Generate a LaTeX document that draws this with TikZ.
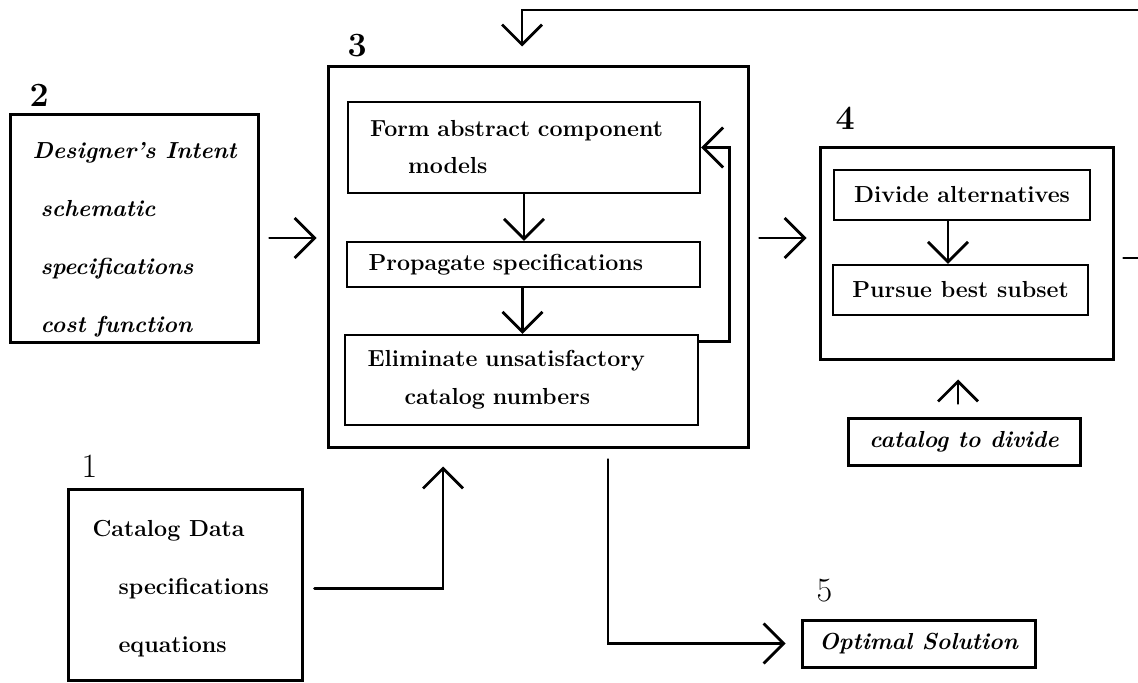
\documentclass[tikz,border=0pt]{standalone}
\usepackage{tikz}
\usetikzlibrary{arrows.meta,positioning}

\begin{document}
\begin{tikzpicture}[x=0.5pt,y=-0.5pt]
	\tikzstyle{every node}=[font=\bfseries\fontsize{11.6}{13.5}\selectfont];
	\tikzstyle{blk}=[draw,rectangle,line width=1.5pt,inner sep=0pt];
	\tikzstyle{stp}=[draw,rectangle,line width=1.2pt,inner xsep=11pt,inner ysep=0pt,align=left];
	\tikzstyle{ctr}=[draw,rectangle,line width=1.2pt,inner sep=0pt,align=center];
	\tikzstyle{itx}=[font=\bfseries\itshape\fontsize{11.6}{13.5}\selectfont];
	\tikzstyle{num}=[font=\fontsize{17}{19}\selectfont];
	\tikzstyle{pth}=[draw,-{Straight Barb[length=10pt,width=20pt]},line width=1.35pt,line cap=round];
	\useasboundingbox (0,0) rectangle (1138,683);
	\clip (0,0) rectangle (1138,683);
	% inputs
	\node[blk,minimum width=124pt,minimum height=114pt] (b2) at (134,229) {};
	\node[itx,align=left,anchor=west] (t2) at ([xshift=8.5pt,yshift=-5.5pt]b2.west)
		{Designer's Intent\\[15.5pt]\hspace*{4pt}schematic\\[15.5pt]\hspace*{4pt}specifications\\[15.5pt]\hspace*{4pt}cost function};
	\node[blk,minimum width=117pt,minimum height=95.5pt] (b1) at (185,584.5) {};
	\node[align=left,anchor=west] (t1) at ([xshift=9.5pt,yshift=-2pt]b1.west)
		{Catalog Data\\[15.5pt]\hspace*{13pt}specifications\\[15.5pt]\hspace*{13pt}equations};
	% main block
	\node[blk,minimum width=210pt,minimum height=190pt] (b3) at (538,257) {};
	\node[stp,minimum width=176pt,minimum height=45.5pt,text width=154pt] (form) at (524,147.5) {Form abstract component\\[5pt]\hspace*{19pt}models};
	\node[stp,minimum width=176.5pt,minimum height=22.5pt,text width=155pt,inner xsep=10.5pt] (prop) at (523.5,264.5) {Propagate specifications};
	\node[stp,minimum width=176.5pt,minimum height=45pt,text width=154pt] (elim) at (521.5,380) {Eliminate unsatisfactory\\[5.5pt]\hspace*{18.5pt}catalog numbers};
	% divide block
	\node[blk,minimum width=146.5pt,minimum height=106pt] (b4) at (966.5,254) {};
	\node[ctr,minimum width=128pt,minimum height=25pt] (divide) at (962,195) {Divide alternatives};
	\node[ctr,minimum width=127.5pt,minimum height=25pt] (pursue) at (960.5,290) {Pursue best subset};
	\node[ctr,itx,line width=1.5pt,minimum width=116pt,minimum height=23.5pt] (catdiv) at (964,441.5) {catalog to divide};
	\node[ctr,itx,line width=1.5pt,minimum width=116.5pt,minimum height=23.5pt] (opt) at (918.5,643.5) {Optimal Solution};
	% numbers
	\node[num,font=\bfseries\fontsize{17}{19}\selectfont,above right=0pt and 7pt of b2.north west] (n2) {2};
	\node[num,font=\bfseries\fontsize{17}{19}\selectfont,above right=1pt and 7pt of b3.north west] (n3) {3};
	\node[num,font=\bfseries\fontsize{17}{19}\selectfont,above right=5pt and 5pt of b4.north west] (n4) {4};
	\node[num,above right=1.5pt and 4pt of b1.north west] (n1) {1};
	\node[num,above right=4.5pt and 4.5pt of opt.north west] (n5) {5};
	\coordinate (ret) at (1170,10);
	% connections
	\draw[pth,shorten <=5pt,shorten >=5pt] ([yshift=-4.5pt]b2.east) -- ([yshift=-4.5pt]b2.east -| b3.west);
	\draw[pth,shorten <=5.5pt,shorten >=9pt] ([yshift=-2pt]b1.east) -| ([xshift=-47.5pt]b3.south);
	\draw[pth] (form) -- (form.south |- prop.north);
	\draw[pth] ([xshift=-0.5pt]prop.south) -- ([xshift=-0.5pt]prop.south |- elim.north);
	\draw[pth] ([yshift=-4pt]elim.north east) -| ([xshift=14pt]form.east) -- (form.east);
	\draw[pth,shorten <=5pt,shorten >=6pt] ([yshift=9.5pt]b3.east) -- ([yshift=9.5pt]b3.east -| b4.west);
	\draw[pth] ([xshift=-7pt]divide.south) -- ([xshift=-7pt]divide.south |- pursue.north);
	\draw[pth,shorten <=6.5pt,shorten >=9pt] ([xshift=-3pt]catdiv.north) -- ([xshift=-3pt]catdiv.north |- b4.south);
	\draw[pth,shorten <=5.5pt,shorten >=7.5pt] ([xshift=35pt]b3.south) |- (opt.west);
	\draw[pth,shorten <=4.5pt,shorten >=9.5pt] ([yshift=-2pt]b4.east) -| (ret) -| ([xshift=-8pt]b3.north);
\end{tikzpicture}
\end{document}
